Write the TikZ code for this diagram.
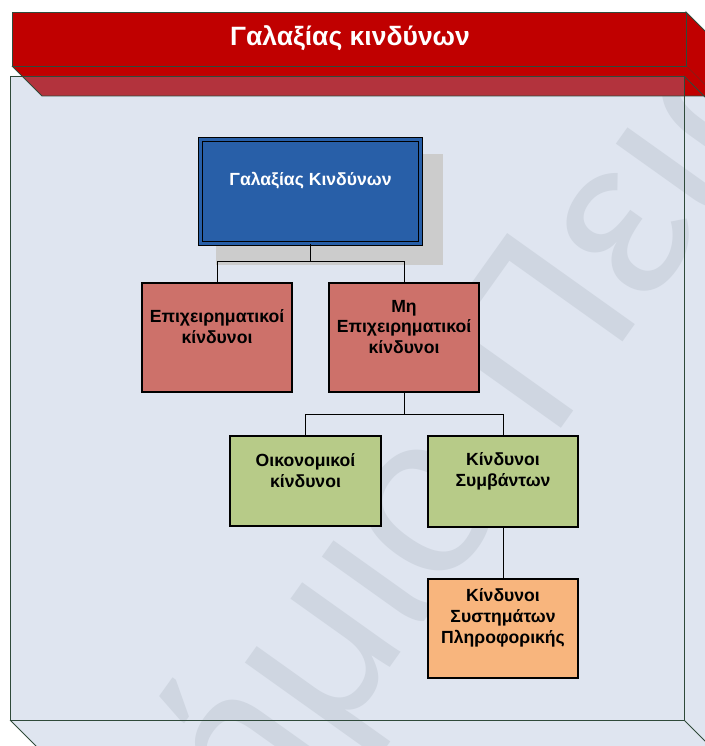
\documentclass[tikz,border=0pt]{standalone}
\usepackage{fontspec}
\setmainfont{Liberation Sans}
\definecolor{headred}{HTML}{C00000}
\definecolor{bandred}{HTML}{B3333D}
\definecolor{panelblue}{HTML}{DFE5F0}
\definecolor{panelline}{HTML}{2F4A3A}
\definecolor{wmarkgray}{HTML}{CFD6E1}
\definecolor{rootblue}{HTML}{285FA8}
\definecolor{bizred}{HTML}{CD716A}
\definecolor{subgreen}{HTML}{B7CB88}
\definecolor{itorange}{HTML}{F8B57D}
\definecolor{shadowgray}{HTML}{CCCCCC}
\tikzset{
    panel-face/.style = {fill=panelblue},
    panel-edge/.style = {draw=panelline, line width=0.9pt},
    head-face/.style = {fill=headred, draw=panelline, line width=0.9pt},
    head-title/.style = {text=white, font=\fontsize{26.5}{31}\selectfont\bfseries, anchor=base},
    chart-box/.style = {draw=black, line width=1.3pt, rectangle, inner sep=0pt, minimum width=150pt},
    chart-text/.style = {font=\fontsize{17.6}{20.8}\selectfont\bfseries, align=center, yshift=10.5pt},
    link/.style = {draw=black, line width=1pt},
}

\begin{document}
\begin{tikzpicture}[x=1pt, y=-1pt]
\useasboundingbox (0,0) rectangle (704,746);
% panel box
\fill[panel-face] (10,76) -- (684,76) -- (714,106) -- (714,750) -- (40,750) -- (10,720) -- cycle;
\begin{scope}
    \clip (10,76) -- (684,76) -- (714,106) -- (714,750) -- (40,750) -- (10,720) -- cycle;
    \node[text=wmarkgray, font=\fontsize{228}{228}\selectfont, rotate=54.5, anchor=base west, inner sep=0pt]
        (wmark) at (551,443) {\llap{Πανεπιστήμιο }Πειραιώς};
\end{scope}
% header bar
\draw[head-face] (686,12) -- (716,42) -- (716,96) -- (686,66) -- cycle;
\fill[headred] (12,66) -- (686,66) -- (716,96) -- (42,96) -- cycle;
\fill[bandred] (22,76) -- (684,76) -- (684,96) -- (42,96) -- cycle;
\draw[panel-edge] (12,66) -- (42,96) -- (716,96);
\draw[head-face] (12,12) rectangle (686,66);
\node[head-title] (title) at (350,46) {Γαλαξίας κινδύνων};
\draw[panel-edge] (10,76) rectangle (684,720);
\draw[panel-edge] (684,76) -- (714,106);
\draw[panel-edge] (684,720) -- (714,750);
\draw[panel-edge] (10,720) -- (40,750);

% chart
\fill[shadowgray] (216,154) rectangle (443,265);
\node[chart-box, fill=rootblue, line width=1.2pt, double=rootblue, double distance=2.6pt,
      minimum width=220pt, minimum height=104pt,
      label={[chart-text, text=white]center:Γαλαξίας Κινδύνων}] (root) at (310.5,191.5) {};
\node[chart-box, fill=bizred, minimum height=109pt,
      label={[chart-text]center:Επιχειρηματικοί\\κίνδυνοι}] (biz) at (217,337.5) {};
\node[chart-box, fill=bizred, minimum height=109pt,
      label={[chart-text]center:Μη\\Επιχειρηματικοί\\κίνδυνοι}] (nonbiz) at (404,337.5) {};
\node[chart-box, fill=subgreen, minimum width=151pt, minimum height=90pt,
      label={[chart-text]center:Οικονομικοί\\κίνδυνοι}] (fin) at (305.5,481) {};
\node[chart-box, fill=subgreen, minimum height=91pt,
      label={[chart-text]center:Κίνδυνοι\\Συμβάντων}] (event) at (503,481.5) {};
\node[chart-box, fill=itorange, minimum height=99pt,
      label={[chart-text]center:Κίνδυνοι\\Συστημάτων\\Πληροφορικής}] (itsys) at (503,628.5) {};

\draw[link] (root.south) -- ++(0,17) -| (biz.north);
\draw[link] (root.south) -- ++(0,17) -| (nonbiz.north);
\draw[link] (nonbiz.south) -- ++(0,22) -| (fin.north);
\draw[link] (nonbiz.south) -- ++(0,22) -| (event.north);
\draw[link] (event) -- (itsys);
\end{tikzpicture}
\end{document}
